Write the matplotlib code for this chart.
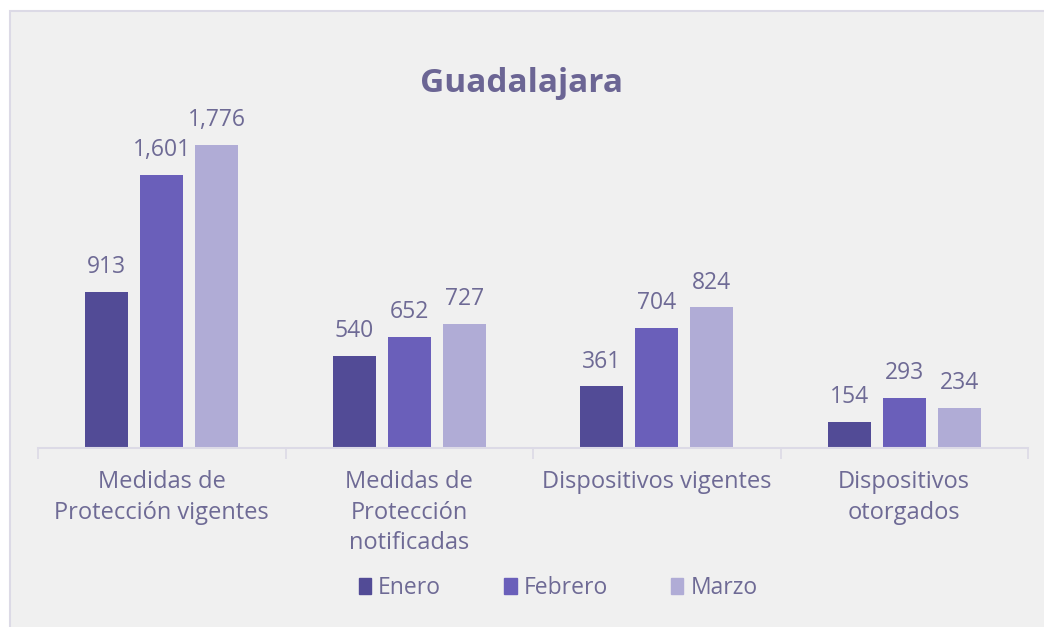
import matplotlib
matplotlib.use("Agg")
import matplotlib.pyplot as plt
import numpy as np
from matplotlib.patches import Rectangle

categories = ["Medidas de\nProtección vigentes", "Medidas de\nProtección\nnotificadas",
              "Dispositivos vigentes", "Dispositivos\notorgados"]
series_names = ["Enero", "Febrero", "Marzo"]
enero = [913, 540, 361, 154]
febrero = [1601, 652, 704, 293]
marzo = [1776, 727, 824, 234]
colors = ["#524b96", "#6a5fba", "#b0acd6"]
text_color = "#6e6a95"

plt.rcParams['font.family'] = ['Open Sans', 'DejaVu Sans']

W, H = 1044, 627
fig = plt.figure(figsize=(W/100, H/100), dpi=100)
fig.patch.set_facecolor("white")
# panel
fig.patches.append(Rectangle((10/W, -0.05), (W)/W, (H-11)/H + 0.05, transform=fig.transFigure,
                             facecolor="#f0f0f0", edgecolor="#dcdae6", linewidth=1.5, zorder=-5))

ax_left, ax_right = 38/W, 1028/W
ax_bottom = 1 - 448/H
ymax = 2000
px_per_unit = 0.1706
ax_top_px = 448 - ymax*px_per_unit
ax = fig.add_axes([ax_left, ax_bottom, ax_right-ax_left, (448-ax_top_px)/H])
ax.set_facecolor("none")
ax.set_zorder(2)

x = np.arange(len(categories))
width = 0.174
offset = 0.222
for i, (vals, c) in enumerate(zip([enero, febrero, marzo], colors)):
    pos = x + (i-1)*offset
    ax.bar(pos, vals, width=width, color=c, label=series_names[i], zorder=2)
    for p, v in zip(pos, vals):
        ax.text(p, v + 75, f"{v:,}", ha="center", va="bottom", fontsize=16.5,
                color=text_color)

ax.set_xlim(-0.5, len(categories)-0.5)
ax.set_ylim(0, ymax)
for s in ["top", "right", "left"]:
    ax.spines[s].set_visible(False)
ax.spines["bottom"].set_color("#dcdae6")
ax.spines["bottom"].set_linewidth(1.5)
ax.set_yticks([])
ax.set_xticks(np.arange(-0.5, len(categories)), minor=False)
ax.set_xticklabels([])
ax.tick_params(axis="x", length=8, color="#dcdae6", width=1.2)
for xi, cat in zip(x, categories):
    ax.text(xi, -130, cat, ha="center", va="top", fontsize=17, color=text_color,
            linespacing=1.37)

fig.text(0.5, 1 - 84/H, "Guadalajara", ha="center", va="center", fontsize=24,
         fontweight="bold", color="#6b6594")

handles = [Rectangle((0, 0), 1, 1, color=c) for c in colors]
fig.legend(handles, series_names, loc="center", bbox_to_anchor=(558/W, 1 - 588/H),
           ncol=3, frameon=False, fontsize=16.5, labelcolor=text_color,
           handlelength=0.55, handleheight=0.75, handletextpad=0.3, columnspacing=2.75)

fig.savefig("out.png", dpi=100)
